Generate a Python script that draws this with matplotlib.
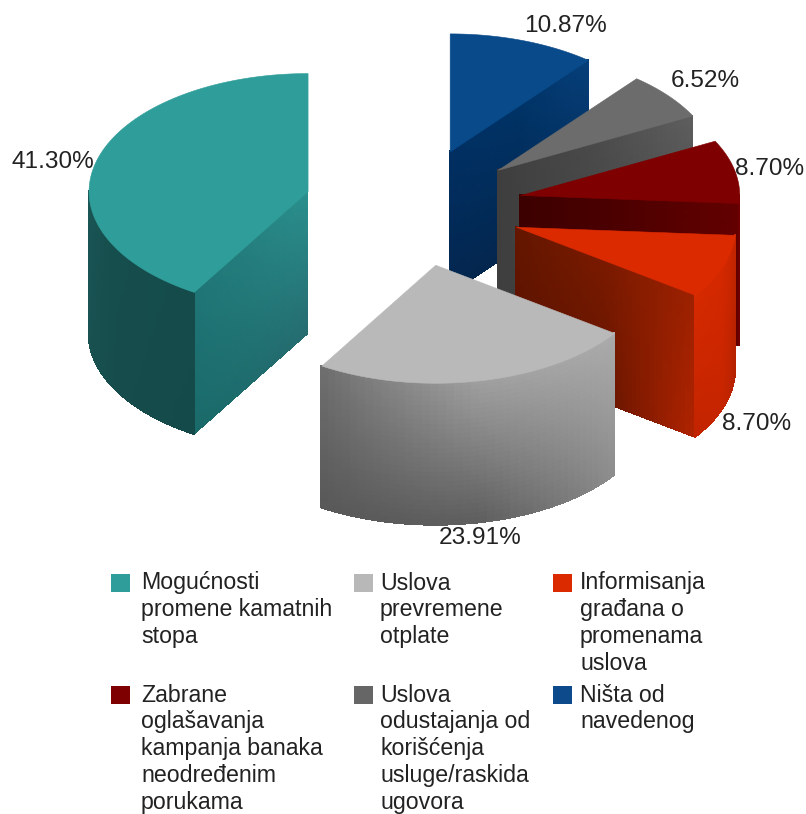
import numpy as np
import matplotlib
matplotlib.use("Agg")
import matplotlib.pyplot as plt
from matplotlib.collections import PolyCollection
from matplotlib.colors import to_rgb
from matplotlib.patches import Rectangle

plt.rcParams['font.family'] = ['Liberation Sans', 'DejaVu Sans']

# ---- data ----
categories = [
    "Mogućnosti\npromene kamatnih\nstopa",
    "Uslova\nprevremene\notplate",
    "Informisanja\ngrađana o\npromenama\nuslova",
    "Zabrane\noglašavanja\nkampanja banaka\nneodređenim\nporukama",
    "Uslova\nodustajanja od\nkorišćenja\nusluge/raskida\nugovora",
    "Ništa od\nnavedenog",
]
values = [41.30, 23.91, 8.70, 8.70, 6.52, 10.87]
value_labels = ["41.30%", "23.91%", "8.70%", "8.70%", "6.52%", "10.87%"]
legend_colors = ["#2f9e9a", "#b8b8b8", "#dc2a00", "#7e0000", "#666666", "#0c4a8c"]

# ---- projection of the tilted, exploded pie ----
CX, CY, RX, RY, EXPLODE, DEPTH = 413.0, 207.0, 219.0, 118.0, 0.5, 142.0
START = 90.0


def proj(x, y, z=0.0):
    return CX + RX * x, CY - RY * y + DEPTH * z


# per-slice style: top colour, wall top/bottom stops, cut-face top/bottom stops
styles = [
    dict(top="#2f9e9a",
         wall=(["#1b5857", "#164d4d", "#154b4b"], ["#1a5353", "#164c4c", "#154a4a"]),
         face=(["#2a918e", "#25807f", "#1f7475"], ["#266c70", "#1f6c6d", "#1a6a6a"])),
    dict(top="#b9b9b9",
         wall=(["#6e6e6e", "#a0a0a0", "#ababab"], ["#585858", "#5e5e5e", "#8e8e8e"]),
         face=(["#808080", "#808080", "#808080"], ["#606060", "#606060", "#606060"])),
    dict(top="#dc2a00",
         wall=(["#d62a00", "#d42800", "#c42500"], ["#c22400", "#c62500", "#b42200"]),
         face=(["#641600", "#7a1a00", "#9c2100"], ["#5a1200", "#651500", "#b02300"])),
    dict(top="#7e0000",
         wall=(["#700000", "#700000", "#6c0000"], ["#700000", "#700000", "#6c0000"]),
         face=(["#3c0000", "#4e0000", "#620000"], ["#3c0000", "#4e0000", "#620000"])),
    dict(top="#6c6c6c",
         wall=(["#555555"] * 3, ["#444444"] * 3),
         face=(["#3e3e3e", "#4a4a4a", "#5e5e5e"], ["#3e3e3e", "#444444", "#4a4a4a"])),
    dict(top="#084a8a",
         wall=(["#003060"] * 3, ["#03264e"] * 3),
         face=(["#012f63", "#003366", "#063f7a"], ["#03264e", "#03264e", "#052c58"])),
]


def stops(colors, s):
    rgb = np.array([to_rgb(c) for c in colors])
    p = np.linspace(0, 1, len(colors))
    return np.array([np.interp(s, p, rgb[:, i]) for i in range(3)])


def shade(pair, s, t):
    return (1 - t) * stops(pair[0], s) + t * stops(pair[1], s)


def sheet(ax, fx, fy, pair, z, n=40, m=30):
    """Draw a vertical sheet. fx,fy map s in [0,1] to plane coordinates."""
    quads, cols = [], []
    ss = np.linspace(0, 1, n + 1)
    tt = np.linspace(0, 1, m + 1)
    for i in range(n):
        for j in range(m):
            s0, s1, t0, t1 = ss[i], ss[i + 1], tt[j], tt[j + 1]
            quads.append([proj(fx(s0), fy(s0), t0), proj(fx(s1), fy(s1), t0),
                          proj(fx(s1), fy(s1), t1), proj(fx(s0), fy(s0), t1)])
            cols.append(shade(pair, (s0 + s1) / 2, (t0 + t1) / 2))
    ax.add_collection(PolyCollection(quads, facecolors=cols, edgecolors=cols,
                                     linewidths=0.6, antialiaseds=False, zorder=z))


fig = plt.figure(figsize=(8.06, 8.14), dpi=100)
ax = fig.add_axes([0, 0, 1, 1])
ax.set_xlim(0, 806)
ax.set_ylim(814, 0)
ax.axis("off")

total = sum(values)
edges = START + np.concatenate([[0], np.cumsum(values)]) / total * 360.0

# painter's order: back slices first
draw_order = [0, 5, 4, 3, 2, 1]
for rank, k in enumerate(draw_order):
    a0, a1 = edges[k], edges[k + 1]
    mid = np.radians((a0 + a1) / 2)
    ox, oy = EXPLODE * np.cos(mid), EXPLODE * np.sin(mid)
    st = styles[k]
    z = 2 + rank * 3

    # cut faces that look toward the viewer
    for ang, normal in ((a0, a0 - 90), (a1, a1 + 90)):
        if np.sin(np.radians(normal)) < -0.05:
            r = np.radians(ang)
            sheet(ax, lambda s, r=r: ox + s * np.cos(r),
                  lambda s, r=r: oy + s * np.sin(r), st["face"], z)

    # outer wall: the part on the front half of the pie
    ranges = []
    for shift in (0, 360):
        l = max(a0, 180 + shift)
        h = min(a1, 360 + shift)
        if h > l:
            ranges.append((l, h))
    for l, h in ranges:
        sheet(ax, lambda s, l=l, h=h: ox + np.cos(np.radians(l + s * (h - l))),
              lambda s, l=l, h=h: oy + np.sin(np.radians(l + s * (h - l))),
              st["wall"], z + 1)

    # top surface
    th = np.radians(np.linspace(a0, a1, 160))
    pts = [proj(ox, oy)] + [proj(ox + np.cos(t), oy + np.sin(t)) for t in th]
    ax.add_collection(PolyCollection([pts], facecolors=st["top"], edgecolors=st["top"],
                                     linewidths=0.4, zorder=z + 2))

# value labels
label_xy = [(53, 162), (480, 538), (757, 424), (770, 169), (705, 81), (566, 26)]
for txt, (x, y) in zip(value_labels, label_xy):
    ax.text(x, y, txt, fontsize=17.6, color="#222222", ha="center", va="center", zorder=40)

# legend
swatch_x = [111, 354, 553]
text_x = [141, 380, 580]
row_y = [574, 686]
for i, (name, c) in enumerate(zip(categories, legend_colors)):
    col = i % 3
    y = row_y[i // 3]
    ax.add_patch(Rectangle((swatch_x[col], y), 19, 18, facecolor=c, edgecolor="none", zorder=40))
    ax.text(text_x[col], y - 2.5, name, fontsize=16.7, color="#222222", ha="left", va="top",
            linespacing=1.22, zorder=40)

fig.savefig("out.png", dpi=100, facecolor="white")
